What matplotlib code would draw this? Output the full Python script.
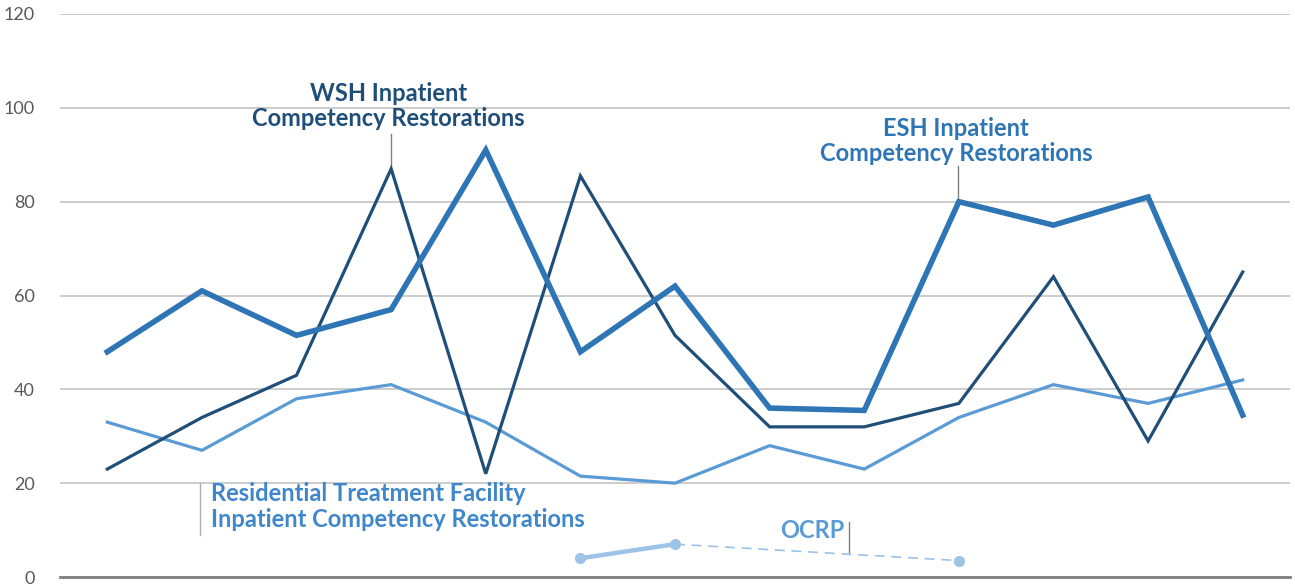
import numpy as np
import matplotlib
matplotlib.use("Agg")
import matplotlib.pyplot as plt

periods = list(range(13))
esh = [48, 61, 51.5, 57, 91, 48, 62, 36, 35.5, 80, 75, 81, 34.5]
wsh = [23, 34, 43, 87, 22, 85.5, 51.5, 32, 32, 37, 64, 29, 65]
rtf = [33, 27, 38, 41, 33, 21.5, 20, 28, 23, 34, 41, 37, 42]
ocrp = [None, None, None, None, None, 4, 7, None, None, 3.5, None, None, None]
y_ticks = [0, 20, 40, 60, 80, 100, 120]

c_esh = "#2E75B6"
c_wsh = "#1F4E79"
c_rtf = "#5B9BD5"
c_ocrp = "#9DC3E6"

plt.rcParams["font.family"] = ["Lato", "DejaVu Sans"]

fig = plt.figure(figsize=(12.95, 5.84), dpi=100)
ax = fig.add_axes([60 / 1295, 1 - 577 / 584, 1230 / 1295, 563 / 584])

ax.plot(periods, rtf, color=c_rtf, lw=2.3, solid_joinstyle="miter", zorder=3)
ax.plot(periods, wsh, color=c_wsh, lw=2.3, solid_joinstyle="miter", zorder=4)
ax.plot(periods, esh, color=c_esh, lw=4.0, solid_joinstyle="miter", zorder=5)

# OCRP: solid between consecutive points, dashed across the gap
ox = [i for i, v in enumerate(ocrp) if v is not None]
oy = [v for v in ocrp if v is not None]
ax.plot(ox[:2], oy[:2], color=c_ocrp, lw=3.2, zorder=3)
ax.plot(ox[1:], oy[1:], color=c_ocrp, lw=1.2, ls=(0, (6, 4)), zorder=3)
ax.plot(ox, oy, "o", color=c_ocrp, ms=7, zorder=4)

ax.set_xlim(-0.5, 12.5)
ax.set_ylim(0, 120)
ax.set_yticks(y_ticks)
ax.set_xticks([])
ax.grid(axis="y", color="#C8C8C8", lw=1.3)
ax.set_axisbelow(True)
for s in ["top", "right", "left"]:
    ax.spines[s].set_visible(False)
ax.spines["bottom"].set_color("#808080")
ax.spines["bottom"].set_linewidth(2)
ax.tick_params(axis="y", length=0, pad=18, labelsize=13, labelcolor="#595959")

# labels with leader lines
lab = dict(fontsize=17, fontweight="bold", ha="center", linespacing=1.12)
ax.text(2.97, 95.3, "WSH Inpatient\nCompetency Restorations", color=c_wsh, va="bottom", **lab)
ax.plot([3, 3], [87.5, 94.5], color="#808080", lw=1)
ax.text(8.97, 87.8, "ESH Inpatient\nCompetency Restorations", color=c_esh, va="bottom", **lab)
ax.plot([8.99, 8.99], [80.5, 87.5], color="#808080", lw=1)
ax.text(1.1, 20.2, "Residential Treatment Facility\nInpatient Competency Restorations",
        color="#3F86CB", va="top", fontsize=17, fontweight="bold", ha="left", linespacing=1.12)
ax.plot([0.98, 0.98], [9, 20], color="#B0B0B0", lw=1)
ax.text(7.45, 10.0, "OCRP", color="#5B9BD5", va="center", fontsize=17, fontweight="bold", ha="center")
ax.plot([7.84, 7.84], [4.8, 11.8], color="#808080", lw=1)

plt.savefig("out.png", dpi=100)
